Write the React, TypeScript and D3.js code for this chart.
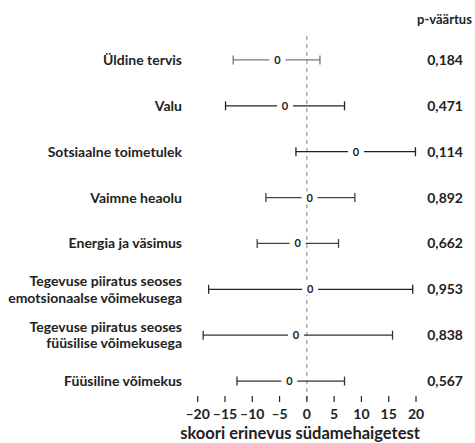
import React from "react";
import * as d3 from "d3";

const categories: string[][] = [
  ["Üldine tervis"],
  ["Valu"],
  ["Sotsiaalne toimetulek"],
  ["Vaimne heaolu"],
  ["Energia ja väsimus"],
  ["Tegevuse piiratus seoses", "emotsionaalse võimekusega"],
  ["Tegevuse piiratus seoses", "füüsilise võimekusega"],
  ["Füüsiline võimekus"],
];
const lower = [-13.5, -14.9, -2.0, -7.5, -9.1, -18.0, -19.0, -12.8];
const upper = [2.4, 6.9, 19.9, 8.8, 5.8, 19.4, 15.7, 6.9];
const mid = [-5.4, -4.0, 9.0, 0.5, -1.7, 0.6, -2.0, -3.2];
const pointLabels = ["0", "0", "0", "0", "0", "0", "0", "0"];
const pValues = ["0,184", "0,471", "0,114", "0,892", "0,662", "0,953", "0,838", "0,567"];
const barColors = ["#777", "#222", "#222", "#444", "#444", "#222", "#333", "#333"];
const ticks = [-20, -15, -10, -5, 0, 5, 10, 15, 20];

const W = 475;
const H = 443;
const FONT = "Lato, 'Open Sans', sans-serif";

export default function App() {
  const x = d3.scaleLinear().domain([-20, 20]).range([197.7, 416]);
  const y = d3
    .scaleBand<number>()
    .domain(d3.range(categories.length))
    .range([37, 404])
    .paddingInner(0)
    .paddingOuter(0);
  const cy = (i: number) => (y(i) as number) + y.bandwidth() / 2;

  return (
    <svg
      width={W}
      height={H}
      style={{ position: "absolute", left: 0, top: 0, background: "#fff" }}
      fontFamily={FONT}
    >
      <text x={417} y={24} fontSize={13} fontWeight={700} fill="#222">
        p-väärtus
      </text>
      <line
        x1={x(0)}
        x2={x(0)}
        y1={36}
        y2={400}
        stroke="#999"
        strokeWidth={1.2}
        strokeDasharray="4,4"
      />
      {categories.map((lines, i) => {
        const yc = cy(i);
        const x0 = x(lower[i]);
        const x1 = x(upper[i]);
        const xm = x(mid[i]);
        const col = barColors[i];
        return (
          <g key={i}>
            {lines.map((ln, k) => (
              <text
                key={k}
                x={182}
                y={yc + 5 + (k - (lines.length - 1) / 2) * 16.5}
                textAnchor="end"
                fontSize={14}
                fontWeight={700}
                fill="#222"
              >
                {ln}
              </text>
            ))}
            <line x1={x0} x2={x1} y1={yc} y2={yc} stroke={col} strokeWidth={1.3} />
            <line x1={x0} x2={x0} y1={yc - 4.5} y2={yc + 4.5} stroke={col} strokeWidth={1.3} />
            <line x1={x1} x2={x1} y1={yc - 4.5} y2={yc + 4.5} stroke={col} strokeWidth={1.3} />
            <rect x={xm - 8} y={yc - 6} width={16} height={12} fill="#fff" />
            <text
              x={xm}
              y={yc + 4}
              textAnchor="middle"
              fontSize={11}
              fontWeight={700}
              fill="#222"
            >
              {pointLabels[i]}
            </text>
            <text
              x={463}
              y={yc + 5}
              textAnchor="end"
              fontSize={14}
              fontWeight={700}
              fill="#222"
            >
              {pValues[i]}
            </text>
          </g>
        );
      })}
      {ticks.map((t) => (
        <g key={t}>
          <line x1={x(t)} x2={x(t)} y1={396} y2={402} stroke="#222" strokeWidth={1.2} />
          <text
            x={x(t)}
            y={419}
            textAnchor="middle"
            fontSize={14}
            fontWeight={700}
            fill="#222"
          >
            {t < 0 ? "\u2013" + Math.abs(t) : String(t)}
          </text>
        </g>
      ))}
      <text
        x={300}
        y={439}
        textAnchor="middle"
        fontSize={16.5}
        fontWeight={700}
        fill="#222"
      >
        skoori erinevus südamehaigetest
      </text>
    </svg>
  );
}
